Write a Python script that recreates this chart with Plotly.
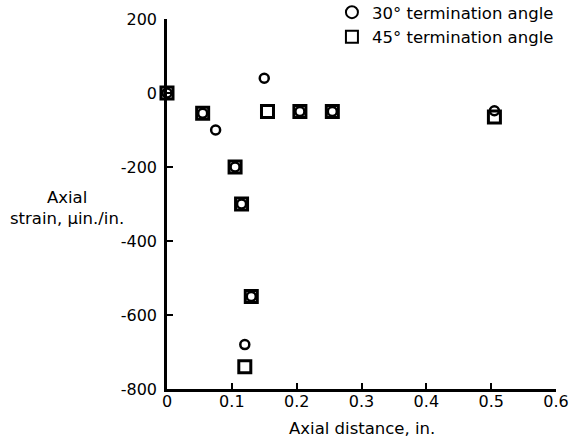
import plotly.graph_objects as go

# Axial strain vs. axial distance for two termination angles
x_30 = [0.0, 0.055, 0.075, 0.105, 0.115, 0.13, 0.12, 0.15, 0.205, 0.255, 0.505]
y_30 = [0, -55, -100, -200, -300, -550, -680, 40, -50, -50, -48]

x_45 = [0.0, 0.055, 0.105, 0.115, 0.13, 0.12, 0.155, 0.205, 0.255, 0.505]
y_45 = [0, -55, -200, -300, -550, -740, -50, -50, -50, -65]

x_ticks = [0, 0.1, 0.2, 0.3, 0.4, 0.5, 0.6]
x_tick_text = ["0", "0.1", "0.2", "0.3", "0.4", "0.5", "0.6"]
y_ticks = [-800, -600, -400, -200, 0, 200]
y_tick_text = ["-800", "-600", "-400", "-200", "0", "200"]

FONT = "DejaVu Sans, Arial, sans-serif"
FS = 16.5

fig = go.Figure()
fig.add_trace(go.Scatter(
    x=x_30, y=y_30, mode="markers", name="30° termination angle",
    cliponaxis=False,
    marker=dict(symbol="circle-open", size=9, color="black", line=dict(width=2.5, color="black")),
))
fig.add_trace(go.Scatter(
    x=x_45, y=y_45, mode="markers", name="45° termination angle",
    cliponaxis=False,
    marker=dict(symbol="square-open", size=12, color="black", line=dict(width=3, color="black")),
))

axis_common = dict(
    showgrid=False, zeroline=False, showline=True, linecolor="black", linewidth=2.5,
    ticks="inside", ticklen=6, tickwidth=2, tickcolor="black",
    tickfont=dict(family=FONT, size=16, color="black"),
    automargin=False,
)

fig.update_xaxes(
    range=[0, 0.6], tickvals=x_ticks, ticktext=x_tick_text, ticklabelstandoff=-4,
    **axis_common,
)
fig.update_yaxes(
    range=[-800, 200], tickvals=y_ticks, ticktext=y_tick_text, ticklabelstandoff=4,
    **axis_common,
)

title_font = dict(family=FONT, size=FS, color="black")
fig.add_annotation(
    text="Axial distance, in.", xref="paper", yref="paper",
    x=0.5, y=-0.108, xanchor="center", yanchor="middle", showarrow=False, font=title_font,
)
fig.add_annotation(
    text="Axial<br>strain, µin./in.", xref="paper", yref="paper",
    x=-0.257, y=0.49, xanchor="center", yanchor="middle", showarrow=False,
    align="center", font=title_font,
)

fig.update_layout(
    width=569, height=443,
    margin=dict(l=167, r=13, t=19, b=54, autoexpand=False),
    paper_bgcolor="white", plot_bgcolor="white",
    showlegend=True,
    legend=dict(
        x=0.424, y=1.065, xanchor="left", yanchor="top",
        bgcolor="rgba(0,0,0,0)", borderwidth=0, tracegroupgap=0,
        font=dict(family=FONT, size=FS, color="black"), itemsizing="constant",
    ),
)

fig.write_html("out.html")
